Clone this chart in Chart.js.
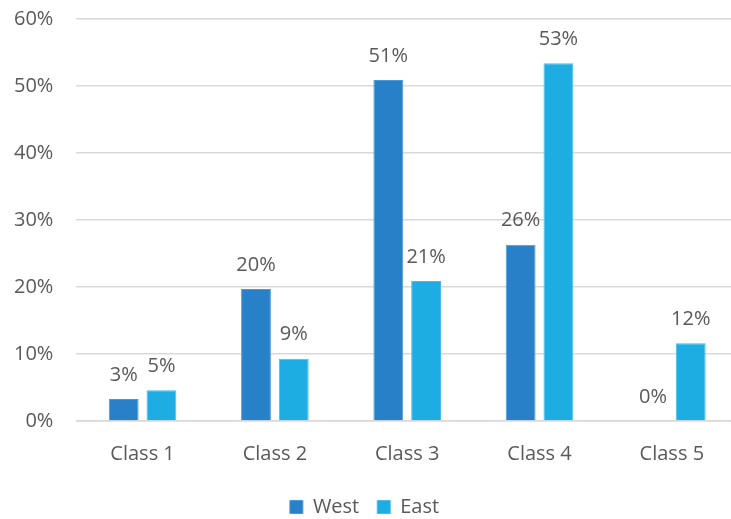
<!DOCTYPE html>
<html>
<head>
<meta charset="utf-8">
<script src="https://cdn.jsdelivr.net/npm/chart.js@4/dist/chart.umd.min.js"></script>
<style>
  html, body { margin: 0; padding: 0; background: #fff; overflow: hidden; }
  #wrap { width: 731px; height: 519px; overflow: hidden; position: relative; }
  #box { position: absolute; left: -9px; top: -16px; width: 754px; height: 549px; }
</style>
</head>
<body>
<div id="wrap"><div id="box"><canvas id="chart"></canvas></div></div>
<script>
const categories = ['Class 1', 'Class 2', 'Class 3', 'Class 4', 'Class 5'];
const westValues = [3.3, 19.7, 50.9, 26.3, 0];
const eastValues = [4.6, 9.3, 20.9, 53.4, 11.6];
const yTicks = [0, 10, 20, 30, 40, 50, 60];

const textColor = '#595959';
const font = { family: '"Open Sans", "Noto Sans", sans-serif', size: 20 };

// draws the value above each bar, like excel data labels
const barLabels = {
  id: 'barLabels',
  afterDatasetsDraw(chart) {
    const ctx = chart.ctx;
    ctx.save();
    ctx.fillStyle = textColor;
    ctx.font = `${font.size}px ${font.family}`;
    ctx.textAlign = 'center';
    ctx.textBaseline = 'bottom';
    chart.data.datasets.forEach((ds, i) => {
      chart.getDatasetMeta(i).data.forEach((bar, j) => {
        ctx.fillText(Math.round(ds.data[j]) + '%', bar.x, bar.y - 14);
      });
    });
    ctx.restore();
  },
};

new Chart(document.getElementById('chart'), {
  type: 'bar',
  data: {
    labels: categories,
    datasets: [
      { label: 'West', data: westValues, backgroundColor: '#2880c8', borderColor: '#4a9ad8', borderWidth: 1 },
      { label: 'East', data: eastValues, backgroundColor: '#1dade3', borderColor: '#45bde9', borderWidth: 1 },
    ],
  },
  options: {
    responsive: true,
    maintainAspectRatio: false,
    animation: false,
    categoryPercentage: 0.571,
    barPercentage: 0.79,
    layout: { padding: { top: 0, left: 0, right: 7, bottom: 6 } },
    plugins: {
      tooltip: { enabled: false },
      legend: {
        position: 'bottom',
        labels: { color: textColor, font, boxWidth: 13, boxHeight: 13, padding: 18 },
      },
    },
    scales: {
      x: {
        grid: { display: false },
        border: { color: '#d9d9d9', width: 1.5 },
        ticks: { color: textColor, font, padding: 13 },
      },
      y: {
        min: 0,
        max: 60,
        afterBuildTicks: (axis) => { axis.ticks = yTicks.map((v) => ({ value: v })); },
        grid: { color: '#d9d9d9', lineWidth: 1.5, drawTicks: false },
        border: { display: false },
        ticks: { color: textColor, font, padding: 23, callback: (v) => v + '%' },
      },
    },
  },
  plugins: [barLabels],
});
</script>
</body>
</html>
